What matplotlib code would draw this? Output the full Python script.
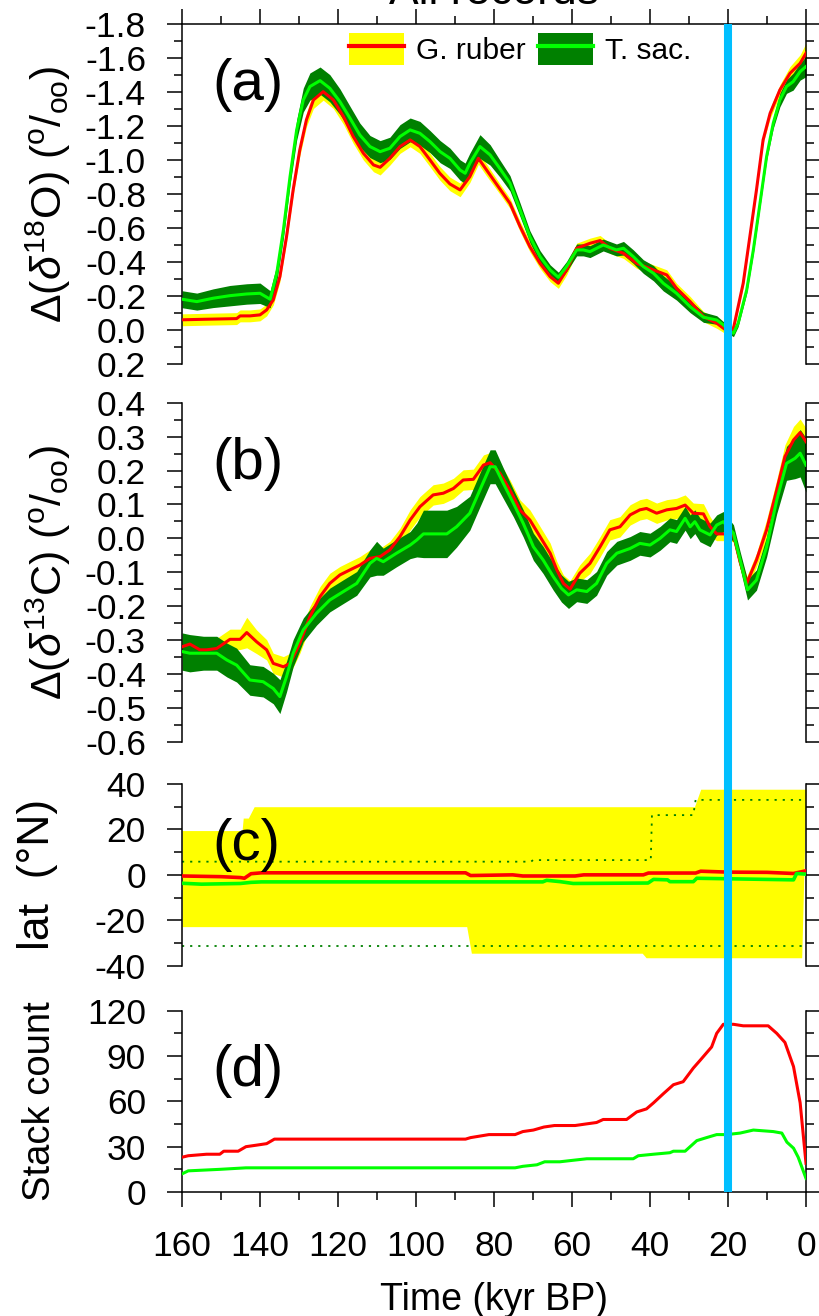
import matplotlib

matplotlib.use("Agg")
import matplotlib.pyplot as plt  # noqa: E402
import numpy as np  # noqa: E402
from matplotlib.legend_handler import HandlerTuple  # noqa: E402
from matplotlib.lines import Line2D  # noqa: E402
from matplotlib.patches import Patch  # noqa: E402
from matplotlib.ticker import FuncFormatter, MultipleLocator  # noqa: E402

# ---- data (time in kyr BP) ----
# (a) delta18O anomaly, G. ruber
o18_rub_t = [160, 154.5, 146, 145.1, 142.6, 140, 138.3, 136.6, 134.9, 133.2,
             131.5, 129.8, 128.1, 126.3, 123.8, 121.2, 118.6, 116.1, 113.5, 110.9,
             109.2, 106.7, 104.1, 101.5, 99.0, 96.4, 93.9, 91.3, 88.7, 86.2,
             84.0, 81.9, 78.5, 75.9, 73.3, 70.8, 68.2, 65.6, 63.5, 61.4,
             58.8, 55.4, 52.8, 50.3, 46.8, 43.4, 39.1, 35.7, 33.2, 29.7,
             26.3, 22.9, 20.0, 18.6, 16.1, 14.4, 12.7, 11.0, 9.2, 6.7,
             4.1, 1.5, 0]
o18_rub = [-0.06, -0.063, -0.067, -0.083, -0.083, -0.089, -0.118, -0.177, -0.314, -0.549,
           -0.824, -1.059, -1.236, -1.353, -1.402, -1.353, -1.255, -1.138, -1.04, -0.971,
           -0.957, -1.01, -1.079, -1.118, -1.079, -1.0, -0.922, -0.859, -0.824, -0.902,
           -1.01, -0.941, -0.83, -0.745, -0.608, -0.49, -0.392, -0.314, -0.275, -0.353,
           -0.481, -0.51, -0.526, -0.481, -0.451, -0.392, -0.353, -0.324, -0.245, -0.167,
           -0.079, -0.04, 0.01, -0.01, -0.275, -0.549, -0.824, -1.118, -1.275, -1.412,
           -1.51, -1.569, -1.628]
o18_rub_hw = [0.035, 0.035, 0.035, 0.035, 0.035, 0.035, 0.035, 0.03, 0.03, 0.03,
              0.03, 0.035, 0.04, 0.05, 0.05, 0.05, 0.045, 0.04, 0.04, 0.04,
              0.045, 0.04, 0.04, 0.04, 0.04, 0.04, 0.04, 0.04, 0.04, 0.035,
              0.035, 0.035, 0.03, 0.03, 0.03, 0.03, 0.03, 0.03, 0.03, 0.03,
              0.03, 0.03, 0.03, 0.03, 0.03, 0.03, 0.03, 0.03, 0.03, 0.03,
              0.03, 0.03, 0.02, 0.02, 0.02, 0.02, 0.02, 0.02, 0.03, 0.03,
              0.04, 0.05, 0.06]

# (a) delta18O anomaly, T. sacculifer
o18_sac_t = [160, 156.2, 152.0, 147.7, 143.4, 140.0, 137.4, 135.7, 134.0,
             132.3, 130.6, 128.9, 127.2, 124.6, 122.1, 119.5, 116.9, 114.4, 111.8,
             109.2, 106.7, 104.1, 101.5, 99.0, 96.4, 93.8, 91.3, 88.7, 87.4,
             86.2, 83.6, 81.0, 78.5, 75.9, 73.3, 70.8, 68.2, 65.6, 63.5,
             61.4, 58.8, 57.1, 55.4, 52.0, 48.6, 46.8, 44.3, 41.7, 39.1,
             36.6, 33.2, 29.7, 26.3, 22.9, 21.2, 20.0, 18.6, 17.4, 15.2,
             13.5, 11.8, 10.1, 8.4, 6.7, 5.0, 3.3, 1.5, 0]
o18_sac = [-0.181, -0.167, -0.187, -0.202, -0.212, -0.216, -0.181, -0.334, -0.589,
           -0.902, -1.177, -1.353, -1.432, -1.467, -1.422, -1.343, -1.245, -1.147, -1.079,
           -1.049, -1.069, -1.138, -1.177, -1.157, -1.108, -1.049, -1.010, -0.941, -0.922,
           -0.98, -1.079, -1.03, -0.95, -0.863, -0.706, -0.549, -0.432, -0.353, -0.31,
           -0.373, -0.471, -0.471, -0.461, -0.5, -0.471, -0.481, -0.432, -0.373, -0.334,
           -0.275, -0.216, -0.137, -0.075, -0.059, -0.03, 0.0, 0.019, -0.04, -0.236,
           -0.471, -0.745, -1.02, -1.216, -1.353, -1.432, -1.461, -1.52, -1.55]
o18_sac_hw = [0.05, 0.05, 0.055, 0.06, 0.06, 0.06, 0.05, 0.05, 0.05,
              0.05, 0.06, 0.07, 0.08, 0.08, 0.08, 0.075, 0.07, 0.07, 0.065,
              0.065, 0.065, 0.07, 0.07, 0.07, 0.065, 0.065, 0.06, 0.06, 0.06,
              0.06, 0.07, 0.06, 0.05, 0.045, 0.04, 0.035, 0.035, 0.03, 0.03,
              0.03, 0.035, 0.035, 0.035, 0.035, 0.035, 0.04, 0.04, 0.04, 0.045,
              0.045, 0.04, 0.035, 0.03, 0.025, 0.02, 0.02, 0.02, 0.02, 0.02,
              0.02, 0.02, 0.02, 0.03, 0.04, 0.04, 0.05, 0.05, 0.06]

# (b) delta13C anomaly, G. ruber
c13_rub_t = [160, 158, 155.4, 153.7, 151.1, 147.7, 145.1, 143.4, 140.9, 138.3,
             136.6, 134.0, 132.3, 129.8, 127.2, 124.6, 122.1, 119.5, 116.9, 114.4,
             111.8, 109.2, 106.7, 104.1, 101.5, 99.0, 95.6, 93.0, 90.4, 87.9,
             85.3, 82.7, 81.0, 78.5, 75.9, 73.3, 70.8, 68.2, 65.6, 63.9,
             62.2, 60.5, 58.0, 55.4, 52.8, 50.3, 47.7, 45.1, 42.6, 40.9,
             38.3, 35.7, 33.2, 31.0, 28.9, 26.3, 24.6, 22.9, 21.2, 18.6,
             16.9, 15.2, 12.7, 10.1, 7.5, 5.4, 3.2, 1.5, 0]
c13_rub = [-0.32, -0.312, -0.329, -0.329, -0.325, -0.298, -0.298, -0.278, -0.305, -0.329,
           -0.369, -0.379, -0.369, -0.31, -0.231, -0.172, -0.133, -0.108, -0.093, -0.079,
           -0.059, -0.054, -0.034, 0.005, 0.054, 0.093, 0.128, 0.133, 0.147, 0.172,
           0.174, 0.216, 0.223, 0.192, 0.142, 0.083, 0.054, 0.005, -0.044, -0.093,
           -0.133, -0.15, -0.103, -0.074, -0.025, 0.025, 0.034, 0.069, 0.084, 0.088,
           0.074, 0.084, 0.088, 0.098, 0.074, 0.072, 0.034, 0.013, 0.013, 0.01,
           -0.07, -0.133, -0.064, 0.025, 0.143, 0.241, 0.29, 0.312, 0.285]
c13_rub_hw = [0.025, 0.025, 0.025, 0.025, 0.03, 0.03, 0.03, 0.045, 0.035, 0.03,
              0.03, 0.03, 0.03, 0.03, 0.03, 0.03, 0.03, 0.025, 0.025, 0.025,
              0.025, 0.025, 0.025, 0.025, 0.03, 0.03, 0.03, 0.03, 0.03, 0.03,
              0.03, 0.03, 0.03, 0.03, 0.03, 0.03, 0.03, 0.03, 0.03, 0.025,
              0.025, 0.025, 0.025, 0.03, 0.03, 0.03, 0.03, 0.03, 0.03, 0.03,
              0.03, 0.03, 0.03, 0.03, 0.03, 0.03, 0.03, 0.02, 0.02, 0.02,
              0.02, 0.02, 0.02, 0.03, 0.03, 0.035, 0.04, 0.04, 0.04]

# (b) delta13C anomaly, T. sacculifer
c13_sac_t = [160, 158, 154.5, 151.1, 148.5, 146, 142.6, 139.2, 136.6, 134.9,
             133.2, 131.5, 128.9, 125.5, 122.1, 118.6, 115.2, 111.8, 110.1, 108.4,
             105, 101.5, 99.8, 98.1, 92.1, 89.6, 86.2, 83.6, 81.0, 79.7,
             77.6, 75.0, 72.5, 69.9, 67.4, 64.8, 62.7, 60.9, 58.8, 56.2,
             53.7, 51.1, 48.5, 45.1, 42.6, 40.0, 37.4, 34.9, 33.2, 31.0,
             29.7, 28.5, 27.2, 24.6, 22.9, 21.2, 18.6, 16.9, 15.0, 12.7,
             10.1, 7.5, 5.0, 2.8, 1.5, 0]
c13_sac = [-0.334, -0.339, -0.339, -0.339, -0.359, -0.374, -0.418, -0.423, -0.443, -0.467,
           -0.408, -0.339, -0.27, -0.221, -0.182, -0.157, -0.133, -0.074, -0.059, -0.069,
           -0.044, -0.02, -0.005, 0.013, 0.013, 0.034, 0.074, 0.143, 0.211, 0.211,
           0.162, 0.103, 0.044, -0.025, -0.064, -0.113, -0.148, -0.167, -0.152, -0.157,
           -0.133, -0.074, -0.044, -0.03, -0.015, -0.02, 0.0, 0.025, 0.02, 0.059,
           0.034, 0.049, 0.025, 0.01, 0.039, 0.049, 0.015, -0.064, -0.152, -0.123,
           -0.025, 0.113, 0.221, 0.236, 0.251, 0.216]
c13_sac_hw = [0.055, 0.055, 0.05, 0.05, 0.05, 0.05, 0.045, 0.045, 0.045, 0.05,
              0.045, 0.04, 0.035, 0.035, 0.035, 0.035, 0.035, 0.04, 0.05, 0.04,
              0.04, 0.04, 0.05, 0.07, 0.07, 0.06, 0.05, 0.05, 0.05, 0.05,
              0.045, 0.04, 0.04, 0.04, 0.04, 0.04, 0.04, 0.04, 0.035, 0.035,
              0.035, 0.035, 0.035, 0.035, 0.035, 0.035, 0.035, 0.035, 0.035, 0.035,
              0.035, 0.035, 0.035, 0.035, 0.03, 0.03, 0.025, 0.025, 0.03, 0.03,
              0.03, 0.04, 0.05, 0.06, 0.07, 0.08]

# (c) core latitudes: range of G. ruber cores (yellow), T. sac range (dotted)
lat_band_t = [160, 144.6, 144.3, 143.0, 141.5, 87.0, 85.8, 42.0, 41.0, 28.6, 27.0, 1.1, 0.0]
lat_band_hi = [19.5, 19.5, 25.0, 25.0, 30.0, 30.0, 30.0, 30.0, 30.0, 30.0, 37.7, 37.7, 37.7]
lat_band_lo = [-22.8, -22.8, -22.8, -22.8, -22.8, -22.8, -34.5, -34.5, -36.5, -36.5, -36.5, -36.5, 37.0]
lat_sac_hi_t = [160, 70.5, 70.0, 39.8, 39.5, 28.9, 28.3, 0]
lat_sac_hi = [5.8, 5.8, 6.5, 6.5, 26.3, 26.3, 33.0, 33.0]
lat_sac_lo_t = [160, 0]
lat_sac_lo = [-31.3, -31.3]
lat_rub_t = [160, 150, 145, 144, 142.3, 139.6, 87.3, 86, 75.2, 72.6,
             59.2, 57, 41.7, 40.4, 28.3, 27, 20, 10, 3.2, 0]
lat_rub = [-0.5, -0.8, -1.2, -1.5, 0.5, 0.9, 0.9, -0.3, 0.0, -0.5,
           -0.5, 0.0, 0.0, 0.8, 0.8, 1.6, 1.2, 1.1, 0.6, 1.8]
lat_sac_t = [160, 155, 145, 142.3, 139.6, 67.5, 66.5, 63, 59.7, 40.5,
             39.1, 35.5, 34.9, 28.9, 28, 3.2, 2.4, 0]
lat_sac = [-3.7, -4.1, -3.8, -3.3, -3.1, -3.1, -2.4, -3.0, -3.8, -3.6,
           -2.0, -2.2, -3.0, -3.0, -1.5, -2.2, 0.6, 0.3]

# (d) number of records in each stack
cnt_rub_t = [160, 158.4, 153.7, 150.3, 149.3, 145.6, 143.6, 140.9, 138.3, 136.3,
             87.3, 86, 81.3, 74.6, 72.6, 69.9, 67.2, 64.5, 59.2, 56.5,
             53.7, 52, 46, 43.4, 40.9, 39.1, 36.6, 34, 31.5, 28.9,
             27.2, 24.2, 22.9, 21.2, 18.6, 16.1, 9.7, 7.5, 5.4, 3.2,
             1.5, 0]
cnt_rub = [23, 24, 25, 25, 27, 27, 30, 31, 32, 35,
           35, 36, 38, 38, 40, 41, 43, 44, 44, 45,
           46, 48, 48, 53, 55, 59, 65, 71, 73, 82,
           87, 96, 105, 111, 111, 110, 110, 105, 99, 83,
           59, 19]
cnt_sac_t = [160, 158.4, 150.3, 143.6, 74.6, 72.6, 69, 67, 63.1, 59.7,
             56.2, 44.3, 43, 39.1, 34.9, 34, 31, 28, 25.5, 22.9,
             20.3, 16.9, 13.5, 8.4, 6.2, 4.9, 3.2, 2.0, 0]
cnt_sac = [12, 14, 15, 16, 16, 17, 18, 20, 20, 21,
           22, 22, 24, 25, 26, 27, 27, 34, 36, 38,
           38, 39, 41, 40, 39, 33, 29, 23, 9]

LGM_T = 20.0

YELLOW = "#ffff00"
RED = "#ff0000"
DKGREEN = "#008000"
LIME = "#00ff00"
BLUE = "#00bfff"

W, H = 820, 1316
LEFT, RIGHT = 182, 806

plt.rcParams["font.family"] = ["Liberation Sans", "DejaVu Sans"]
plt.rcParams["axes.unicode_minus"] = False
plt.rcParams["mathtext.fontset"] = "custom"
plt.rcParams["mathtext.rm"] = "Liberation Sans"
plt.rcParams["mathtext.it"] = "Liberation Sans:italic"
plt.rcParams["mathtext.bf"] = "Liberation Sans:bold"

TICK_FS = 25.5


def _rect(top, bottom):
    return [LEFT / W, 1 - bottom / H, (RIGHT - LEFT) / W, (bottom - top) / H]


def _fmt(nd):
    def f(v, _pos):
        if abs(v) < 1e-9:
            v = 0.0
        return f"{v:.{nd}f}"
    return FuncFormatter(f)


def _style(ax, ylim, major, minor, nd, top=False, bottom=False):
    ax.set_xlim(160, 0)
    ax.set_ylim(*ylim)
    ax.xaxis.set_major_locator(MultipleLocator(20))
    ax.xaxis.set_minor_locator(MultipleLocator(10))
    ax.yaxis.set_major_locator(MultipleLocator(major))
    ax.yaxis.set_minor_locator(MultipleLocator(minor))
    ax.yaxis.set_major_formatter(_fmt(nd))
    for side in ("left", "right", "top", "bottom"):
        ax.spines[side].set_linewidth(1.1)
    ax.spines["top"].set_visible(top)
    ax.spines["bottom"].set_visible(bottom)
    ax.tick_params(axis="y", which="both", direction="out", left=True, right=True,
                   labelleft=True, labelright=False, width=1.1)
    ax.tick_params(axis="y", which="major", length=11, pad=15, labelsize=TICK_FS)
    ax.tick_params(axis="y", which="minor", length=5.5)
    ax.tick_params(axis="x", which="both", direction="out", top=top, bottom=bottom,
                   labeltop=False, labelbottom=bottom, width=1.1)
    ax.tick_params(axis="x", which="major", length=11, pad=16, labelsize=TICK_FS)
    ax.tick_params(axis="x", which="minor", length=5.5)
    ax.patch.set_visible(False)


def _band_pair(ax, t_r, v_r, hw_r, t_s, v_s, hw_s):
    v_r, hw_r = np.asarray(v_r), np.asarray(hw_r)
    v_s, hw_s = np.asarray(v_s), np.asarray(hw_s)
    ax.fill_between(t_r, v_r - hw_r, v_r + hw_r, color=YELLOW, lw=0, zorder=1)
    ax.fill_between(t_s, v_s - hw_s, v_s + hw_s, color=DKGREEN, lw=0, zorder=2)
    ax.plot(t_r, v_r, color=RED, lw=2.2, zorder=3)
    ax.plot(t_s, v_s, color=LIME, lw=2.2, zorder=4)


def _panel_tag(ax, tag, y):
    ax.text(0.048, y, tag, transform=ax.transAxes, fontsize=42, ha="left", va="center")


fig = plt.figure(figsize=(W / 100, H / 100), dpi=100)

ax_a = fig.add_axes(_rect(24, 364))
ax_b = fig.add_axes(_rect(402.7, 741.7))
ax_c = fig.add_axes(_rect(784, 965.7))
ax_d = fig.add_axes(_rect(1010.7, 1192))

# (a) d18O
_style(ax_a, (0.2, -1.8), 0.2, 0.1, 1, top=True)
_band_pair(ax_a, o18_rub_t, o18_rub, o18_rub_hw, o18_sac_t, o18_sac, o18_sac_hw)
_panel_tag(ax_a, "(a)", 0.82)
ax_a.set_ylabel(r"$\Delta(\delta^{18}\mathrm{O})\ (^{\mathrm{o}}/_{\mathrm{oo}})$",
                fontsize=31, va="center")
ax_a.yaxis.set_label_coords((48 - LEFT) / (RIGHT - LEFT), 0.5)

handles = [(Patch(facecolor=YELLOW, lw=0), Line2D([], [], color=RED, lw=3)),
           (Patch(facecolor=DKGREEN, lw=0), Line2D([], [], color=LIME, lw=3))]
ax_a.legend(handles, ["G. ruber", "T. sac."],
            handler_map={tuple: HandlerTuple(ndivide=1, pad=0)},
            ncol=2, frameon=False, fontsize=21.5, borderpad=0, borderaxespad=0,
            handlelength=1.84, handleheight=1.27, handletextpad=0.4, columnspacing=0.42,
            loc="upper left", bbox_to_anchor=((349 - LEFT) / (RIGHT - LEFT), 1 - 9 / 340))

# (b) d13C
_style(ax_b, (-0.6, 0.4), 0.1, 0.05, 1)
_band_pair(ax_b, c13_rub_t, c13_rub, c13_rub_hw, c13_sac_t, c13_sac, c13_sac_hw)
_panel_tag(ax_b, "(b)", 0.82)
ax_b.set_ylabel(r"$\Delta(\delta^{13}\mathrm{C})\ (^{\mathrm{o}}/_{\mathrm{oo}})$",
                fontsize=31, va="center")
ax_b.yaxis.set_label_coords((48 - LEFT) / (RIGHT - LEFT), 0.5)

# (c) latitude
_style(ax_c, (-40, 40), 20, 10, 0)
ax_c.fill_between(lat_band_t, lat_band_lo, lat_band_hi, color=YELLOW, lw=0, zorder=1)
ax_c.plot(lat_sac_hi_t, lat_sac_hi, color=DKGREEN, lw=1.3, ls=(0, (1.2, 3.3)), zorder=2)
ax_c.plot(lat_sac_lo_t, lat_sac_lo, color=DKGREEN, lw=1.3, ls=(0, (1.2, 3.3)), zorder=2)
ax_c.plot(lat_rub_t, lat_rub, color=RED, lw=2.6, zorder=3)
ax_c.plot(lat_sac_t, lat_sac, color=LIME, lw=2.6, zorder=4)
_panel_tag(ax_c, "(c)", 0.665)
ax_c.set_ylabel("lat  (\u00b0N)", fontsize=32, va="center")
ax_c.yaxis.set_label_coords((37 - LEFT) / (RIGHT - LEFT), 0.5)

# (d) stack count
_style(ax_d, (0, 120), 30, 15, 0, bottom=True)
ax_d.plot(cnt_rub_t, cnt_rub, color=RED, lw=2.2, zorder=3)
ax_d.plot(cnt_sac_t, cnt_sac, color=LIME, lw=2.2, zorder=4)
_panel_tag(ax_d, "(d)", 0.667)
ax_d.set_ylabel("Stack count", fontsize=27.5, va="center")
ax_d.yaxis.set_label_coords((40 - LEFT) / (RIGHT - LEFT), 0.5)
ax_d.set_xlabel("Time (kyr BP)", fontsize=27, labelpad=14)

# LGM marker spanning all four panels
ov = fig.add_axes(_rect(24, 1192), zorder=10)
ov.set_xlim(160, 0)
ov.axvline(LGM_T, color=BLUE, lw=5.8)
ov.axis("off")

fig.text((LEFT + RIGHT) / 2 / W, 1 - 4 / H, "All records", fontsize=32,
         ha="center", va="baseline")

fig.savefig("out.png", dpi=100)
